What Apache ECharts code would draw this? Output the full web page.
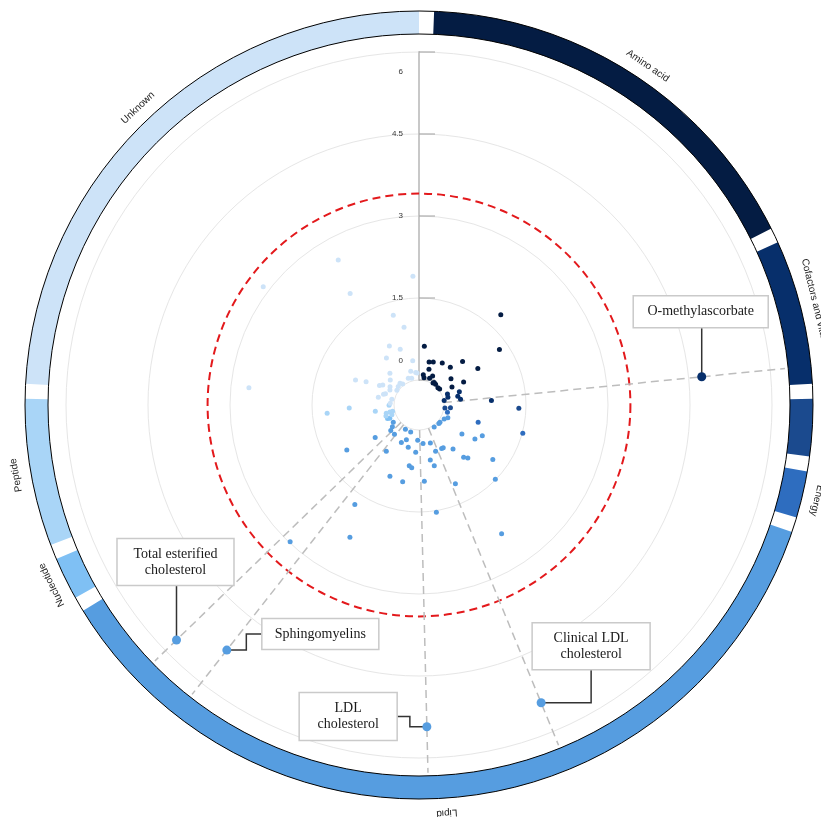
<!DOCTYPE html>
<html>
<head>
<meta charset="utf-8">
<script src="https://cdn.jsdelivr.net/npm/echarts@6/dist/echarts.min.js"></script>
<style>
  html, body { margin: 0; padding: 0; background: #fff; }
  #chart { width: 821px; height: 817px; }
</style>
</head>
<body>
<div id="chart"></div>
<script>
// super pathways round the ring (angle positions in degrees, clockwise from top)
const pathways = ['Amino acid', 'Cofactors and vitamins', 'Carbohydrate', 'Energy', 'Lipid', 'Nucleotide', 'Peptide', 'Unknown'];
const pathwayStart = [2.2, 65.6, 89.1, 99.7, 108.8, 240.7, 249.2, 273.1];
const pathwayEnd = [63.4, 86.9, 97.5, 106.6, 238.5, 247.0, 270.9, 360];
const pathwayLabelAt = [34, 76.3, 93.3, 103.5, 176.1, 243.9, 260.1, 316.6];
const pathwayColors = ['#041c43', '#072f6b', '#1b4a8e', '#2e6dbf', '#569de0', '#7fc0f4', '#a9d5f7', '#cde3f8'];

// [-log10 p, angle]
const aminoAcid = [[1.77, 42.2], [0.62, 5.2], [1.33, 55.4], [0.35, 13.2], [0.37, 18.4], [0.42, 29.0], [0.67, 45.0],
  [0.44, 39.7], [0.81, 58.1], [0.22, 15.6], [0.10, 8.1], [0.07, 21.6], [0.13, 25.1], [0.30, 50.6], [0.04, 34.0],
  [0.03, 38.5], [0.46, 62.8], [0.01, 47.8], [0.02, 52.3], [0.23, 61.4], [0.05, 10.4], [0.02, 32.5]];
const cofactors = [[0.32, 71.7], [0.10, 69.0], [0.09, 75.0], [0.27, 77.3], [0.31, 82.1], [0.01, 80.1], [0.87, 86.5]];
const carbohydrate = [[1.37, 91.9], [0.02, 96.6], [0.12, 94.9]];
const energy = [[0.08, 104.5], [0.67, 106.3], [1.51, 105.2]];
const lipid = [[0.12, 113.9], [0.07, 119.2], [0.04, 129.5], [0.04, 133.1], [0.03, 145.3], [0.49, 124.0], [0.74, 121.3],
  [0.83, 115.9], [0.19, 182.1], [0.25, 174.0], [0.27, 163.4], [0.41, 184.0], [0.44, 160.2], [0.44, 152.5],
  [0.44, 150.4], [0.56, 142.3], [0.80, 139.5], [0.86, 137.3], [1.22, 126.4], [0.57, 168.4], [0.69, 165.9],
  [1.49, 134.2], [0.94, 176.0], [1.13, 155.2], [1.53, 170.8], [2.34, 147.3], [0.11, 236.0], [0.17, 230.9],
  [0.24, 227.8], [0.24, 220.1], [0.05, 209.4], [0.06, 197.1], [0.54, 233.5], [1.10, 238.0], [0.30, 205.2],
  [0.22, 199.9], [0.34, 194.3], [0.58, 215.2], [0.67, 189.1], [0.70, 186.6], [0.95, 202.2], [0.98, 192.0],
  [1.71, 212.8], [2.27, 207.6], [2.98, 223.3]];
const nucleotide = [[0.17, 246.6], [0.13, 245.4]];
const peptide = [[1.23, 264.8], [0.82, 267.5], [0.35, 261.8], [0.18, 251.6], [0.09, 256.4], [0.04, 256.5],
  [0.07, 250.2], [0.09, 269.4], [0.16, 255.9]];
const unknown = [[2.58, 330.9], [1.90, 357.3], [3.12, 307.2], [1.94, 328.3], [1.25, 344.0], [0.99, 349.1],
  [0.75, 333.3], [0.62, 341.4], [0.59, 325.3], [0.36, 351.9], [0.18, 346.3], [0.14, 354.2], [0.07, 338.2],
  [0.13, 356.4], [0.79, 291.4], [0.60, 293.7], [0.33, 317.5], [0.24, 311.1], [0.17, 302.3], [0.35, 296.4],
  [0.30, 298.9], [0.07, 318.8], [0.03, 322.2], [0.05, 311.5], [0.03, 303.9], [2.67, 275.8], [0.30, 280.7],
  [0.22, 286.7], [0.19, 288.5], [0.05, 281.8], [0.07, 273.4], [0.05, 344.7], [0.14, 297.1]];

// annotated hits
const hitNames = ['O-methylascorbate', 'Total esterified\ncholesterol', 'Sphingomyelins', 'LDL\ncholesterol', 'Clinical LDL\ncholesterol'];
const hitValues = [4.74, 5.72, 5.24, 5.43, 5.43];
const hitAngles = [84.3, 225.9, 218.1, 178.6, 157.7];
const hitPathway = [1, 4, 4, 4, 4];

const threshold = 3.41;
const radiusTicks = [0, 1.5, 3, 4.5, 6];

// layout of the label boxes relative to their points
const hitBoxes = [
  { dx: -1, dy: -65, w: 135, h: 32, link: [[0, 0], [0, -49]] },
  { dx: -1, dy: -78, w: 117, h: 47, link: [[0, 0], [0, -55]] },
  { dx: 93.5, dy: -16, w: 117, h: 31, link: [[0, 0], [19.5, 0], [19.5, -16], [35, -16]] },
  { dx: -78.7, dy: -10.3, w: 98, h: 48, link: [[0, 0], [-17, 0], [-17, -10.3], [-29.7, -10.3]] },
  { dx: 50, dy: -56.4, w: 118, h: 47, link: [[0, 0], [50, 0], [50, -32.7]] }
];

const groups = [aminoAcid, cofactors, carbohydrate, energy, lipid, nucleotide, peptide, unknown];

function screenAngle(api, cs, a) {
  const p = api.coord([1, a]);
  return Math.atan2(p[1] - cs.cy, p[0] - cs.cx);
}

function renderRing(params, api) {
  const cs = params.coordSys;
  const i = api.value(1);
  const s = screenAngle(api, cs, pathwayStart[i]);
  let e = screenAngle(api, cs, pathwayEnd[i]);
  if (e <= s) e += Math.PI * 2;
  const mid = pathwayLabelAt[i];
  const m = screenAngle(api, cs, mid);
  const R = cs.r + 15;
  return {
    type: 'group',
    children: [
      {
        type: 'sector',
        shape: { cx: cs.cx, cy: cs.cy, r0: cs.r0, r: cs.r, startAngle: s, endAngle: e, clockwise: true },
        style: { fill: pathwayColors[i] }
      },
      {
        type: 'text',
        x: cs.cx + R * Math.cos(m),
        y: cs.cy + R * Math.sin(m),
        rotation: -mid * Math.PI / 180,
        style: {
          text: pathways[i], fill: '#222', font: '10px "Liberation Sans"',
          align: 'center', verticalAlign: 'middle'
        }
      }
    ]
  };
}

function renderRingEdge(params) {
  const cs = params.coordSys;
  const st = { fill: 'none', stroke: '#000', lineWidth: 1 };
  return {
    type: 'group',
    children: [
      { type: 'circle', shape: { cx: cs.cx, cy: cs.cy, r: cs.r }, style: st },
      { type: 'circle', shape: { cx: cs.cx, cy: cs.cy, r: cs.r0 }, style: st }
    ]
  };
}

function renderThreshold(params, api) {
  const cs = params.coordSys;
  const p = api.coord([api.value(0), 0]);
  const r = Math.hypot(p[0] - cs.cx, p[1] - cs.cy);
  return {
    type: 'circle',
    shape: { cx: cs.cx, cy: cs.cy, r },
    style: { fill: 'none', stroke: '#e3191c', lineWidth: 2, lineDash: [8, 5] }
  };
}

function renderSpoke(params, api) {
  const a = api.value(1);
  const p0 = api.coord([0, a]);
  const p1 = api.coord([api.value(0), a]);
  return {
    type: 'line',
    shape: { x1: p0[0], y1: p0[1], x2: p1[0], y2: p1[1] },
    style: { stroke: '#bdbdbd', lineWidth: 1.5, lineDash: [8, 5] }
  };
}

// radius-axis ticks, drawn on the right of the axis line
function renderTick(params, api) {
  const p = api.coord([api.value(0), api.value(1)]);
  return {
    type: 'line',
    shape: { x1: p[0], y1: p[1], x2: p[0] + 16, y2: p[1] },
    style: { stroke: '#a0a0a0', lineWidth: 1 }
  };
}

function renderHit(params, api) {
  const i = api.value(2);
  const p = api.coord([api.value(0), api.value(1)]);
  const b = hitBoxes[i];
  const bx = p[0] + b.dx, by = p[1] + b.dy;
  return {
    type: 'group',
    children: [
      {
        type: 'polyline',
        shape: { points: b.link.map(q => [p[0] + q[0], p[1] + q[1]]) },
        style: { fill: 'none', stroke: '#333', lineWidth: 1.5 }
      },
      {
        type: 'rect',
        shape: { x: bx - b.w / 2, y: by - b.h / 2, width: b.w, height: b.h },
        style: { fill: '#fff', stroke: '#cacaca', lineWidth: 1.5 }
      },
      {
        type: 'text',
        x: bx, y: by,
        style: {
          text: hitNames[i], fill: '#1a1a1a', font: '14px "Liberation Serif"',
          align: 'center', verticalAlign: 'middle', lineHeight: 16
        }
      },
      {
        type: 'circle',
        shape: { cx: p[0], cy: p[1], r: 4.5 },
        style: { fill: pathwayColors[hitPathway[i]] }
      }
    ]
  };
}

const chart = echarts.init(document.getElementById('chart'), null, { renderer: 'canvas' });

const pointSeries = groups.map((g, i) => ({
  type: 'scatter',
  coordinateSystem: 'polar',
  polarIndex: 0,
  data: g,
  symbolSize: 5,
  itemStyle: { color: pathwayColors[i], opacity: 1 },
  silent: true,
  z: 4
}));

chart.setOption({
  animation: false,
  backgroundColor: '#fff',
  polar: [
    { center: [419, 405], radius: [25, 353] },
    { center: [419, 405], radius: [371, 394] }
  ],
  angleAxis: [
    { polarIndex: 0, type: 'value', min: 0, max: 360, startAngle: 90, clockwise: true, show: false },
    { polarIndex: 1, type: 'value', min: 0, max: 360, startAngle: 90, clockwise: true, show: false }
  ],
  radiusAxis: [
    {
      polarIndex: 0,
      type: 'value',
      min: radiusTicks[0],
      max: radiusTicks[radiusTicks.length - 1],
      interval: 1.5,
      axisLine: { lineStyle: { color: '#c8c8c8', width: 2 } },
      axisTick: { show: false },
      axisLabel: {
        margin: 16,
        color: '#333',
        fontSize: 8,
        fontFamily: 'Liberation Sans',
        formatter: v => v === 6 ? '{lo|6}' : v === 0 ? '{hi|0}' : String(v),
        rich: {
          lo: { padding: [40, 0, 0, 0], fontSize: 8, color: '#333' },
          hi: { padding: [0, 0, 38, 0], fontSize: 8, color: '#333' }
        }
      },
      splitLine: { show: true, lineStyle: { color: '#e6e6e6', width: 1 } }
    },
    { polarIndex: 1, type: 'value', min: 0, max: 1, show: false }
  ],
  series: [
    {
      type: 'custom', coordinateSystem: 'polar', polarIndex: 0, silent: true, z: 2,
      data: radiusTicks.map(t => [t, 0]),
      renderItem: renderTick
    },
    {
      type: 'custom', coordinateSystem: 'polar', polarIndex: 0, silent: true, z: 2,
      data: [[threshold, 0]],
      renderItem: renderThreshold
    },
    {
      type: 'custom', coordinateSystem: 'polar', polarIndex: 0, silent: true, z: 3,
      data: hitAngles.map(a => [6.27, a]),
      renderItem: renderSpoke
    },
    ...pointSeries,
    {
      type: 'custom', coordinateSystem: 'polar', polarIndex: 0, silent: true, z: 5,
      data: hitValues.map((v, i) => [v, hitAngles[i], i]),
      renderItem: renderHit
    },
    {
      type: 'custom', coordinateSystem: 'polar', polarIndex: 1, silent: true, z: 2,
      data: pathways.map((n, i) => [1, i]),
      renderItem: renderRing
    },
    {
      type: 'custom', coordinateSystem: 'polar', polarIndex: 1, silent: true, z: 3,
      data: [[1, 0]],
      renderItem: renderRingEdge
    }
  ]
});
</script>
</body>
</html>
